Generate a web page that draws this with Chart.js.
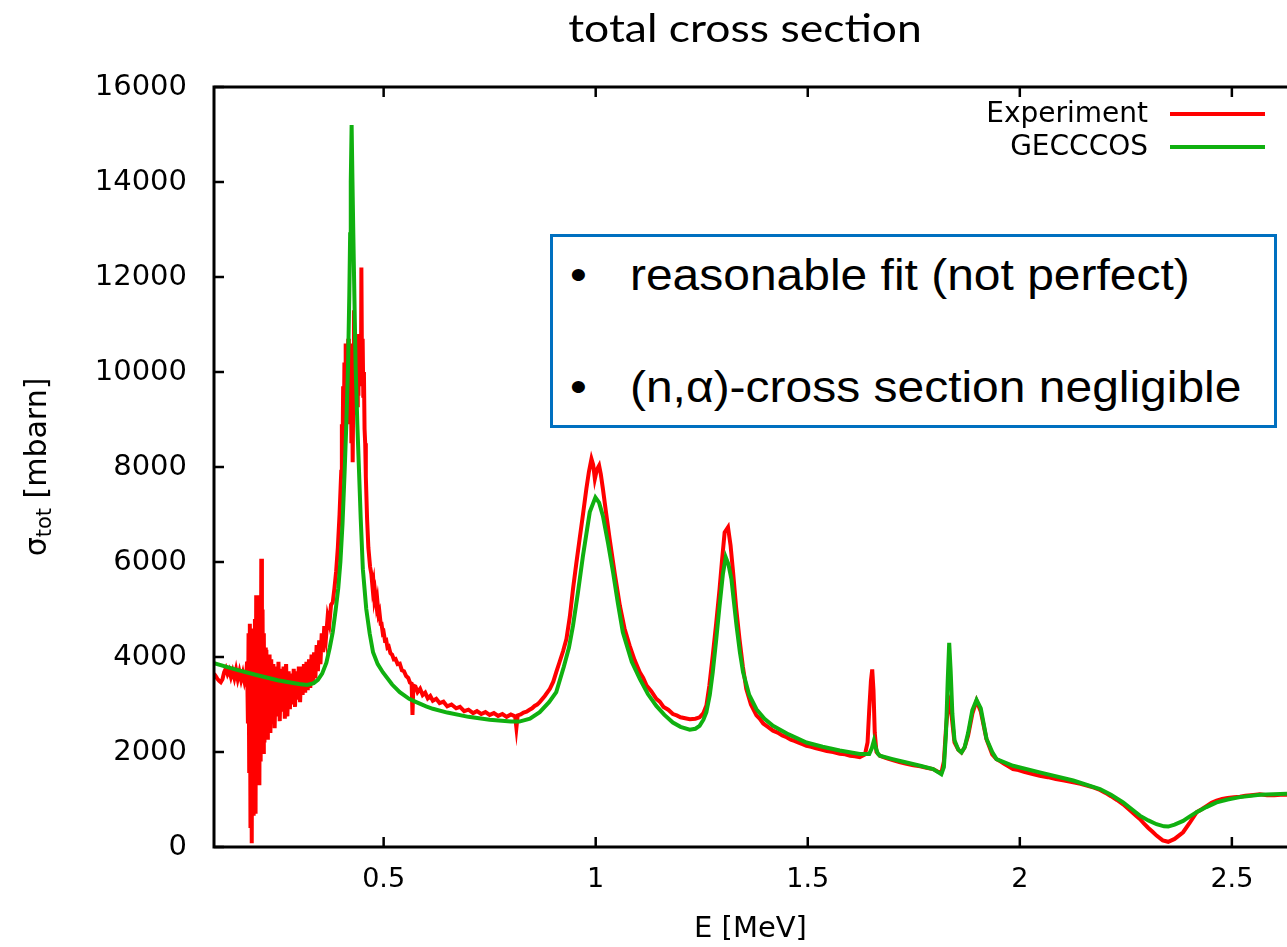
<!DOCTYPE html>
<html>
<head>
<meta charset="utf-8">
<title>total cross section</title>
<script src="https://cdn.jsdelivr.net/npm/chart.js@4.4.1/dist/chart.umd.min.js"></script>
<style>
  html, body { margin: 0; padding: 0; background: #fff; overflow: hidden; }
  #wrap { position: relative; width: 1287px; height: 947px; }
  #chart { position: absolute; left: 0; top: 0; }
  .slide-title {
    position: absolute; left: 0; top: 8px; width: 1490px; text-align: center;
    font: 39px Lato, "Open Sans", sans-serif; line-height: 1; color: #000;
  }
  .slide-title span { display: inline-block; transform: scaleX(1.14); }
  .note {
    position: absolute; left: 550px; top: 234px; width: 727px; height: 194px;
    box-sizing: border-box; border: 3.5px solid #0070c0; background: #fff;
  }
  .note-line {
    position: absolute; left: 570px; white-space: nowrap;
    font: 44px "Liberation Sans", Arial, sans-serif; line-height: 1; color: #000;
    transform: scaleX(1.09); transform-origin: left center;
  }
  .note-line .bullet { display: inline-block; width: 55px; }
</style>
</head>
<body>
<div id="wrap">
  <canvas id="chart" width="1287" height="947"></canvas>
  <div class="slide-title"><span>total cross section</span></div>
  <div class="note"></div>
  <div class="note-line" style="top:253px"><span class="bullet">•</span>reasonable fit (not perfect)</div>
  <div class="note-line" style="top:365px"><span class="bullet">•</span>(n,α)-cross section negligible</div>
</div>
<script>
// measured transmission data (red)
const expEnergy = [
  0.100, 0.104, 0.108, 0.112, 0.116, 0.120, 0.124, 0.128, 0.132, 0.136, 0.140, 0.144, 0.148, 0.152, 0.156, 0.160,
  0.164, 0.168, 0.172, 0.176, 0.178, 0.180, 0.1815, 0.183, 0.1845, 0.186, 0.1875, 0.189, 0.1905, 0.192, 0.1935, 0.195,
  0.1965, 0.198, 0.1995, 0.201, 0.2025, 0.204, 0.2055, 0.207, 0.2085, 0.210, 0.2115, 0.213, 0.2145, 0.216, 0.2175, 0.219,
  0.2205, 0.222, 0.2235, 0.225, 0.227, 0.229, 0.231, 0.233, 0.235, 0.237, 0.240, 0.243, 0.246, 0.249, 0.252, 0.255,
  0.258, 0.261, 0.264, 0.267, 0.270, 0.273, 0.276, 0.279, 0.282, 0.285, 0.288, 0.291, 0.294, 0.297, 0.300, 0.303,
  0.306, 0.309, 0.312, 0.315, 0.318, 0.321, 0.324, 0.327, 0.330, 0.333, 0.336, 0.339, 0.342, 0.345, 0.348, 0.351,
  0.354, 0.357, 0.360, 0.364, 0.368, 0.372, 0.376, 0.380, 0.384, 0.388, 0.392, 0.396,
  0.400, 0.4015, 0.403, 0.4045, 0.406, 0.4075, 0.409, 0.4105, 0.412, 0.4135, 0.415, 0.4165, 0.418, 0.4195, 0.421, 0.4225,
  0.424, 0.4255, 0.427, 0.4285, 0.430, 0.4315, 0.433, 0.4345, 0.436, 0.4375, 0.439, 0.4405, 0.442, 0.4435, 0.445, 0.4465,
  0.4475, 0.449, 0.4505, 0.452, 0.4535, 0.455, 0.4565, 0.458, 0.461, 0.464, 0.468, 0.471, 0.474, 0.476, 0.478, 0.480,
  0.483, 0.485, 0.488, 0.490, 0.493, 0.495, 0.498, 0.500, 0.503, 0.506, 0.509, 0.512, 0.516, 0.520, 0.524, 0.528,
  0.533, 0.538, 0.543, 0.548, 0.553, 0.558, 0.562, 0.566, 0.568, 0.570, 0.575, 0.580, 0.586, 0.592, 0.598, 0.604,
  0.610, 0.616, 0.624, 0.632, 0.641, 0.650, 0.660, 0.671, 0.680, 0.690, 0.700, 0.711, 0.720, 0.730, 0.740, 0.750,
  0.760, 0.770, 0.780, 0.790, 0.800, 0.810, 0.813, 0.816, 0.823, 0.830, 0.837, 0.844, 0.850, 0.856, 0.862, 0.868,
  0.880, 0.892, 0.900, 0.907, 0.915, 0.923, 0.931, 0.939, 0.9465, 0.954, 0.962, 0.970, 0.978, 0.984,
  0.990, 0.994, 0.998, 1.003, 1.008, 1.012, 1.017, 1.025, 1.033, 1.045, 1.057, 1.068, 1.080, 1.092, 1.104, 1.112,
  1.120, 1.131, 1.143, 1.151, 1.160, 1.171, 1.182, 1.191, 1.200, 1.211, 1.222, 1.235, 1.245, 1.254, 1.261, 1.268,
  1.276, 1.284, 1.292, 1.298, 1.304, 1.312, 1.318, 1.324, 1.331, 1.339, 1.347, 1.355, 1.366, 1.379, 1.387, 1.395,
  1.406, 1.418, 1.429, 1.440, 1.450, 1.460, 1.470, 1.480, 1.489, 1.497, 1.508, 1.520, 1.532, 1.545, 1.560,
  1.5755, 1.588, 1.600, 1.611, 1.6226, 1.635, 1.641, 1.645, 1.649, 1.652, 1.655, 1.658, 1.662, 1.670, 1.685, 1.700,
  1.716, 1.7328, 1.749, 1.765, 1.780, 1.7955,
  1.808, 1.815, 1.821, 1.826, 1.831, 1.835, 1.840, 1.846, 1.855, 1.8625, 1.870, 1.878, 1.888, 1.898, 1.908, 1.9214,
  1.935, 1.945, 1.955, 1.965, 1.975, 1.984, 1.997, 2.010, 2.028, 2.047, 2.066, 2.085, 2.105, 2.126, 2.143, 2.160,
  2.175, 2.189, 2.202, 2.215, 2.229, 2.2436, 2.255, 2.265, 2.274, 2.283, 2.293, 2.303, 2.313, 2.3224,
  2.337, 2.350, 2.365, 2.385, 2.400, 2.4167, 2.428, 2.440, 2.452, 2.464, 2.477, 2.490, 2.505, 2.519, 2.532, 2.545,
  2.556, 2.566, 2.583, 2.600, 2.615, 2.630
];
const expSigma = [
  3650, 3600, 3540, 3500, 3470, 3530, 3680, 3760, 3640, 3720, 3580, 3700, 3560, 3730, 3540, 3690,
  3520, 3660, 3480, 3620, 3900, 2600, 4500, 1600, 4700, 400, 4600, 80, 4400, 700, 4600, 1200,
  4800, 700, 5300, 1400, 5000, 1700, 5300, 1300, 4900, 1800, 6070, 2000, 5000, 2000, 4500, 2200,
  4200, 2400, 4150, 2300, 4000, 2500, 4050, 2400, 3950, 2600, 3850, 2500, 3800, 2750, 3900, 2650,
  3750, 2850, 3800, 2700, 3850, 2750, 3700, 2900, 3650, 3000, 3750, 2950, 3700, 3100, 3800, 3050,
  3800, 3200, 3850, 3250, 3900, 3300, 3950, 3350, 4050, 3450, 4100, 3550, 4250, 3700, 4350, 3850,
  4500, 4100, 4650, 4400, 4850, 4700, 5100, 5150, 5450, 5800, 6300, 7000,
  7900, 8900, 8200, 9700, 8600, 10200, 8900, 10600, 9000, 10400, 9200, 10700, 8900, 10500, 9000, 10600,
  8500, 9900, 8100, 9700, 11300, 9100, 10500, 9200, 10600, 9300, 10700, 9500, 10800, 9700, 10600, 9900,
  12200, 10000, 10700, 9500, 10000, 8800, 8500, 7800, 6900, 6300, 5900, 5750, 5450, 5550, 5250, 5350,
  5100, 5200, 4900, 4950, 4700, 4700, 4500, 4520, 4350, 4360, 4200, 4220, 4080, 4050, 3950, 3960,
  3850, 3860, 3720, 3700, 3600, 3560, 3460, 3440, 2780, 3400, 3380, 3260, 3330, 3200, 3250, 3130,
  3180, 3080, 3120, 3030, 3060, 2960, 3000, 2920, 2950, 2860, 2890, 2820, 2860, 2800, 2840, 2780,
  2820, 2760, 2800, 2740, 2790, 2750, 2510, 2770, 2790, 2830, 2850, 2890, 2920, 2970, 3000, 3050,
  3180, 3330, 3480, 3680, 3900, 4120, 4380, 4850, 5430, 5950, 6480, 7000, 7540, 7900,
  8170, 8050, 7750, 7950, 8030, 7850, 7540, 7000, 6480, 5750, 5080, 4600, 4240, 3930, 3680, 3560,
  3400, 3280, 3120, 3060, 2950, 2890, 2800, 2770, 2730, 2710, 2690, 2700, 2730, 2820, 2980, 3400,
  4030, 4700, 5430, 6050, 6620, 6730, 6350, 5780, 5050, 4380, 3800, 3330, 3000, 2770, 2700, 2600,
  2530, 2450, 2410, 2350, 2310, 2260, 2230, 2190, 2160, 2130, 2110, 2080, 2050, 2020, 2000,
  1960, 1950, 1920, 1910, 1890, 1950, 2200, 2900, 3500, 3740, 3300, 2400, 2000, 1920, 1870, 1830,
  1790, 1750, 1720, 1700, 1670, 1640,
  1580, 1560, 1800, 2500, 3000, 3100, 2700, 2200, 2050, 1990, 2100, 2340, 2800, 3080, 2850, 2270,
  1950, 1850, 1800, 1740, 1690, 1640, 1620, 1580, 1540, 1500, 1470, 1430, 1400, 1360, 1330, 1290,
  1250, 1200, 1140, 1070, 990, 900, 810, 730, 660, 590, 490, 400, 320, 240,
  140, 110, 170, 310, 500, 730, 790, 860, 930, 975, 1010, 1030, 1050, 1060, 1080, 1090,
  1100, 1110, 1090, 1090, 1100, 1100
];

// GECCCOS calculation (green)
const modelEnergy = [
  0.100, 0.150, 0.200, 0.250, 0.300, 0.320, 0.335, 0.345, 0.355, 0.365, 0.373, 0.380, 0.387, 0.393, 0.398, 0.403,
  0.408, 0.412, 0.416, 0.419, 0.421, 0.4225, 0.4245, 0.4265, 0.4285, 0.431, 0.434, 0.438, 0.442, 0.446, 0.451, 0.459,
  0.467, 0.475, 0.486, 0.498, 0.520, 0.538, 0.560, 0.577, 0.600, 0.616, 0.650, 0.700, 0.750, 0.800, 0.820, 0.845,
  0.868, 0.890, 0.907, 0.925, 0.937, 0.9465, 0.958, 0.970, 0.986, 0.9993, 1.008, 1.017, 1.029, 1.041, 1.052, 1.064,
  1.085, 1.104, 1.123, 1.143, 1.162, 1.182, 1.200, 1.2217, 1.235, 1.245, 1.254, 1.261, 1.269, 1.276, 1.284, 1.292,
  1.300, 1.3066, 1.313, 1.320, 1.326, 1.332, 1.340, 1.3474, 1.362, 1.379, 1.398, 1.418, 1.455, 1.497, 1.535, 1.5755,
  1.6226, 1.645, 1.651, 1.656, 1.660, 1.665, 1.670, 1.700, 1.7328, 1.765, 1.7955, 1.808, 1.815, 1.821, 1.826, 1.830,
  1.8335, 1.837, 1.841, 1.846, 1.855, 1.8625, 1.870, 1.878, 1.888, 1.898, 1.908, 1.9214, 1.935, 1.945, 1.984, 2.047,
  2.126, 2.189, 2.215, 2.2436, 2.265, 2.283, 2.303, 2.3224, 2.340, 2.350, 2.365, 2.385, 2.400, 2.4167, 2.440, 2.464,
  2.490, 2.519, 2.566, 2.630
];
const modelSigma = [
  3870, 3740, 3620, 3510, 3430, 3410, 3450, 3520, 3650, 3880, 4200, 4520, 5000, 5450, 6000, 6800,
  7900, 8900, 10100, 11600, 12900, 14000, 15200, 14000, 12900, 11600, 10100, 8900, 7900, 6900, 5850, 5010,
  4500, 4100, 3850, 3680, 3420, 3260, 3120, 3050, 2960, 2910, 2830, 2740, 2680, 2640, 2640, 2700,
  2840, 3050, 3260, 3800, 4200, 4660, 5350, 6130, 7050, 7360, 7250, 6970, 6400, 5780, 5150, 4520,
  3900, 3540, 3220, 2970, 2780, 2620, 2530, 2470, 2490, 2550, 2680, 2840, 3200, 3680, 4350, 5080,
  5750, 6100, 5950, 5640, 5150, 4660, 4100, 3680, 3200, 2900, 2700, 2550, 2370, 2200, 2110, 2030,
  1960, 1960, 2080, 2240, 2100, 1970, 1920, 1850, 1780, 1710, 1640, 1570, 1530, 1680, 2400, 3500,
  4300, 3700, 2800, 2250, 2050, 1990, 2100, 2400, 2880, 3100, 2920, 2280, 2000, 1850, 1710, 1570,
  1400, 1220, 1100, 940, 790, 660, 560, 480, 435, 430, 470, 550, 640, 730, 840, 940,
  1000, 1050, 1100, 1120
];

const xTickValues = [0.5, 1, 1.5, 2, 2.5];
const yTickValues = [0, 2000, 4000, 6000, 8000, 10000, 12000, 14000, 16000];

const RED = '#ff0000';
const GREEN = '#10b010';
const FONT = "'DejaVu Sans', sans-serif";

function toPoints(xs, ys) {
    return xs.map((x, i) => ({ x: x, y: ys[i] }));
}

// gnuplot style border with inward ticks (right edge is cut off in the original)
const framePlugin = {
    id: 'frame',
    afterDatasetsDraw(chart) {
        const { ctx, chartArea: a, scales: { x, y } } = chart;
        ctx.save();
        ctx.strokeStyle = '#000';
        ctx.lineWidth = 3;
        ctx.beginPath();
        ctx.moveTo(a.right + 2, a.top);
        ctx.lineTo(a.left, a.top);
        ctx.lineTo(a.left, a.bottom);
        ctx.lineTo(a.right + 2, a.bottom);
        ctx.stroke();

        ctx.lineWidth = 2.5;
        ctx.beginPath();
        x.ticks.forEach(t => {
            const px = x.getPixelForValue(t.value);
            ctx.moveTo(px, a.bottom);
            ctx.lineTo(px, a.bottom - 10);
            ctx.moveTo(px, a.top);
            ctx.lineTo(px, a.top + 10);
        });
        y.ticks.forEach(t => {
            const py = y.getPixelForValue(t.value);
            ctx.moveTo(a.left, py);
            ctx.lineTo(a.left + 10, py);
        });
        ctx.stroke();
        ctx.restore();
    }
};

// key in the top right corner: text first, line sample after it
const keyPlugin = {
    id: 'key',
    afterDraw(chart) {
        const { ctx, chartArea: a } = chart;
        ctx.save();
        ctx.font = '28px ' + FONT;
        ctx.textAlign = 'right';
        ctx.textBaseline = 'alphabetic';
        chart.data.datasets.forEach((ds, i) => {
            const base = a.top + 35 + i * 33;
            ctx.fillStyle = '#000';
            ctx.fillText(ds.label, a.right - 139, base);
            ctx.strokeStyle = ds.borderColor;
            ctx.lineWidth = 4;
            ctx.beginPath();
            ctx.moveTo(a.right - 117, base - 8);
            ctx.lineTo(a.right - 22, base - 8);
            ctx.stroke();
        });
        ctx.restore();
    }
};

// y axis title with a real subscript
const yTitlePlugin = {
    id: 'yTitle',
    afterDraw(chart) {
        const { ctx, chartArea: a } = chart;
        const main = '30px ' + FONT;
        const sub = '21px ' + FONT;
        ctx.save();
        ctx.translate(38, (a.top + a.bottom) / 2);
        ctx.rotate(-Math.PI / 2);
        ctx.fillStyle = '#000';
        ctx.textBaseline = 'alphabetic';
        ctx.textAlign = 'left';
        ctx.font = main;
        const w1 = ctx.measureText('σ').width;
        const w3 = ctx.measureText(' [mbarn]').width;
        ctx.font = sub;
        const w2 = ctx.measureText('tot').width;
        let pos = -(w1 + w2 + w3) / 2;
        ctx.font = main;
        ctx.fillText('σ', pos, 8);
        pos += w1;
        ctx.font = sub;
        ctx.fillText('tot', pos, 13);
        pos += w2;
        ctx.font = main;
        ctx.fillText(' [mbarn]', pos, 8);
        ctx.restore();
    }
};

new Chart(document.getElementById('chart'), {
    type: 'line',
    data: {
        datasets: [
            {
                label: 'Experiment',
                data: toPoints(expEnergy, expSigma),
                borderColor: RED,
                borderWidth: 4,
                pointRadius: 0,
                tension: 0,
                order: 1,
            },
            {
                label: 'GECCCOS',
                data: toPoints(modelEnergy, modelSigma),
                borderColor: GREEN,
                borderWidth: 4,
                pointRadius: 0,
                tension: 0,
                order: 0,
            },
        ],
    },
    options: {
        responsive: false,
        animation: false,
        layout: { padding: { top: 87, right: 0, bottom: 0, left: 0 } },
        plugins: { legend: { display: false }, tooltip: { enabled: false } },
        scales: {
            x: {
                type: 'linear',
                min: 0.1,
                max: 2.63,
                afterBuildTicks: s => { s.ticks = xTickValues.map(v => ({ value: v })); },
                afterFit: s => { s.height = 100; },
                grid: { display: false, drawTicks: false },
                border: { display: false },
                ticks: { color: '#000', padding: 17, font: { family: FONT, size: 27 }, callback: v => String(v) },
                title: { display: true, text: 'E [MeV]', color: '#000', font: { family: FONT, size: 29 }, padding: { top: 0, bottom: 0 } },
            },
            y: {
                type: 'linear',
                min: 0,
                max: 16000,
                afterBuildTicks: s => { s.ticks = yTickValues.map(v => ({ value: v })); },
                afterFit: s => { s.width = 214; },
                grid: { display: false, drawTicks: false },
                border: { display: false },
                ticks: { color: '#000', padding: 27, font: { family: FONT, size: 29 }, callback: v => String(v) },
            },
        },
    },
    plugins: [framePlugin, keyPlugin, yTitlePlugin],
});
</script>
</body>
</html>
